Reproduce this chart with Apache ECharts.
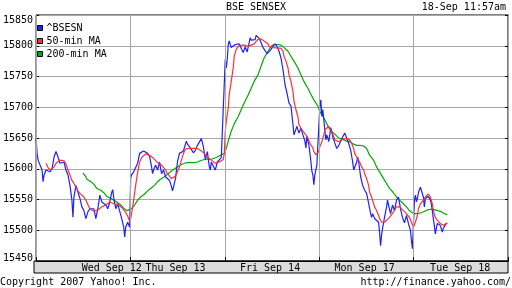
<!DOCTYPE html>
<html><head><meta charset="utf-8">
<script src="https://cdn.jsdelivr.net/npm/echarts@6/dist/echarts.min.js"></script>
<style>html,body{margin:0;padding:0;background:#fff}#c{width:512px;height:288px}</style>
</head><body><div id="c"></div>
<script>
// Time index: 95 intervals per trading day (Wed Sep 12 .. Tue Sep 18), value = index level
const dayLabels = ['Wed Sep 12', 'Thu Sep 13', 'Fri Sep 14', 'Mon Sep 17', 'Tue Sep 18'];
const dayLabelAt = [76, 140, 235, 330, 426];
const yTicks = [15450, 15500, 15550, 15600, 15650, 15700, 15750, 15800, 15850];

const bsesn = [
 [0,15650],[1,15625],[2,15614],[4,15617],[6,15598],[7,15579],[8,15590],[10,15598],[12,15600],[14,15595],
 [16,15600],[18,15619],[20,15628],[21,15630],[22,15619],[24,15609],[26,15611],[28,15611],[30,15598],[32,15590],
 [34,15573],[36,15549],[37,15521],[38,15554],[40,15573],[42,15562],[44,15552],[46,15538],[48,15532],[50,15519],
 [52,15530],[54,15535],[56,15532],[58,15535],[60,15519],[62,15535],[64,15557],[66,15546],[68,15543],[70,15541],
 [72,15535],[74,15546],[76,15562],[77,15566],[78,15552],[80,15535],[82,15543],[84,15541],[86,15519],[88,15505],
 [89,15489],[90,15505],[92,15513],[94,15505],
 [95,15585],[96,15590],[98,15595],[100,15598],[102,15609],[104,15625],[106,15624],[108,15629],[110,15626],[112,15625],
 [114,15620],[116,15603],[117,15592],[118,15598],[120,15606],[122,15598],[124,15611],[126,15592],[128,15598],[130,15587],
 [132,15590],[134,15581],[136,15571],[137,15564],[138,15570],[140,15584],[142,15611],[144,15625],[146,15626],[148,15629],
 [150,15640],[151,15645],[152,15640],[154,15636],[156,15631],[158,15626],[160,15630],[162,15638],[164,15636],[166,15649],
 [168,15636],[170,15615],[172,15628],[174,15603],[175,15598],[176,15611],[178,15604],[180,15598],[182,15611],[184,15614],
 [186,15618],[188,15619],
 [190,15778],[191,15764],[192,15778],[193,15802],[194,15808],[195,15810],[196,15797],[198,15799],[200,15802],[202,15805],
 [204,15803],[206,15805],[208,15789],[210,15798],[212,15790],[214,15805],[215,15813],[216,15809],[218,15810],[220,15810],
 [221,15817],[222,15820],[224,15812],[226,15805],[228,15797],[230,15792],[232,15787],[234,15790],[236,15794],[238,15799],
 [240,15803],[241,15805],[242,15799],[244,15791],[246,15780],[248,15761],[250,15737],[252,15723],[254,15707],[256,15702],
 [258,15672],[259,15655],[260,15653],[262,15669],[264,15658],[266,15666],[268,15655],[270,15645],[271,15634],[272,15653],
 [274,15639],[276,15612],[277,15596],[278,15590],[279,15574],[280,15590],[282,15606],[283,15609],
 [285,15701],[286,15712],[287,15685],[288,15696],[290,15663],[291,15647],[292,15655],[294,15644],[296,15667],[298,15652],
 [300,15642],[302,15633],[304,15638],[306,15636],[308,15652],[310,15658],[312,15660],[314,15641],[316,15630],[318,15611],
 [319,15598],[320,15595],[322,15611],[323,15619],[324,15611],[326,15587],[328,15573],[330,15565],[332,15560],[334,15544],
 [336,15527],[337,15521],[338,15527],[340,15519],[342,15519],[344,15513],[345,15497],[346,15475],[347,15492],[348,15503],
 [350,15521],[352,15538],[353,15549],[354,15541],[356,15527],[358,15541],[360,15532],[362,15549],[364,15554],[366,15535],
 [368,15521],[370,15512],[372,15524],[374,15511],[376,15500],[377,15483],[378,15470],
 [380,15549],[381,15557],[382,15546],[383,15552],[384,15561],[385,15566],[386,15570],[387,15573],[388,15568],[389,15554],
 [390,15538],[391,15552],[392,15550],[394,15555],[396,15549],[397,15543],[398,15532],[399,15519],[400,15508],[401,15494],
 [402,15503],[403,15511],[404,15513],[406,15508],[407,15505],[408,15497],[409,15503],[410,15506],[412,15511],[413,15511]
];

const ma50 = [
 [10,15609],[12,15602],[14,15598],[16,15598],[18,15603],[20,15609],[22,15612],[24,15614],[26,15614],[28,15613],
 [30,15608],[32,15598],[34,15590],[36,15581],[38,15576],[40,15570],[42,15564],[44,15560],[46,15557],[48,15554],
 [50,15549],[52,15542],[54,15535],[56,15532],[58,15531],[60,15530],[62,15533],[64,15536],[66,15538],[68,15539],
 [70,15541],[72,15544],[74,15546],[76,15545],[78,15543],[80,15544],[82,15542],[84,15539],[86,15537],[88,15534],
 [90,15529],[92,15523],[94,15514],
 [95,15519],[96,15528],[98,15549],[100,15573],[102,15594],[104,15611],[106,15618],[108,15620],[110,15624],[112,15625],
 [114,15622],[116,15619],[118,15617],[120,15614],[122,15610],[124,15607],[126,15606],[128,15603],[130,15598],[132,15592],
 [134,15588],[136,15584],[137,15581],[138,15583],[140,15588],[142,15595],[144,15603],[146,15614],[148,15625],[150,15632],
 [152,15634],[154,15633],[156,15633],[158,15633],[160,15633],[162,15633],[164,15631],[166,15629],[168,15627],[170,15623],
 [172,15619],[174,15617],[176,15614],[178,15611],[180,15609],[182,15609],[184,15611],[186,15613],[188,15615],[189,15625],
 [190,15660],[191,15677],[193,15699],[194,15721],[196,15742],[198,15764],[199,15783],[201,15794],[203,15799],[204,15802],
 [206,15801],[209,15801],[213,15799],[216,15801],[219,15803],[221,15807],[223,15809],[224,15812],[226,15812],[228,15809],
 [229,15808],[233,15803],[234,15799],[236,15798],[239,15797],[243,15796],[244,15797],[246,15796],[248,15791],[249,15783],
 [251,15775],[253,15764],[254,15753],[256,15742],[258,15726],[259,15710],[261,15696],[263,15685],[264,15672],[266,15666],
 [268,15661],[269,15658],[271,15655],[273,15650],[274,15645],[276,15639],[278,15634],[279,15628],[281,15623],[283,15620],
 [284,15628],[285,15636],[287,15644],[289,15655],[290,15663],[292,15666],[294,15669],[295,15668],[297,15660],[299,15652],
 [300,15647],[302,15644],[304,15644],[305,15647],[309,15649],[312,15649],[315,15647],[317,15641],[319,15633],[320,15625],
 [322,15619],[324,15617],[325,15611],[327,15603],[329,15598],[330,15592],[332,15584],[334,15573],[335,15562],[337,15554],
 [339,15543],[340,15538],[342,15532],[344,15524],[345,15519],[347,15513],[349,15512],[350,15513],[352,15516],[355,15521],
 [359,15530],[362,15538],[364,15541],[365,15538],[367,15535],[369,15532],[370,15530],[372,15527],[374,15524],[375,15521],
 [377,15513],[379,15505],
 [381,15513],[383,15524],[384,15535],[386,15543],[388,15546],[389,15549],[391,15554],[393,15557],[394,15559],[396,15554],
 [398,15543],[399,15532],[401,15521],[403,15516],[404,15513],[406,15511],[408,15512],[409,15508],[411,15511],[413,15512]
];

const ma200 = [
 [47,15593],[50,15587],[51,15583],[55,15579],[58,15575],[61,15568],[65,15565],[68,15561],[71,15555],[75,15552],
 [78,15549],[81,15546],[85,15541],[88,15536],[91,15532],[93,15531],
 [95,15534],[99,15541],[102,15549],[105,15554],[109,15559],[112,15564],[115,15568],[119,15573],[122,15579],[125,15583],
 [129,15587],[132,15591],[135,15595],[139,15600],[142,15603],[145,15606],[149,15609],[152,15610],[155,15610],[159,15610],
 [162,15611],[165,15613],[169,15615],[172,15616],[175,15615],[179,15617],[182,15619],[185,15622],[189,15625],
 [191,15633],[193,15645],[196,15661],[199,15673],[203,15685],[206,15696],[209,15707],[213,15720],[216,15731],[219,15742],
 [223,15753],[226,15767],[229,15780],[233,15791],[236,15799],[239,15802],[243,15802],[246,15801],[249,15797],[253,15791],
 [256,15783],[259,15775],[263,15764],[266,15753],[269,15742],[273,15731],[276,15721],[279,15712],[283,15702],
 [285,15693],[289,15683],[292,15673],[295,15664],[299,15658],[302,15653],[305,15649],[309,15647],[312,15645],[315,15644],
 [319,15640],[322,15638],[325,15638],[329,15637],[332,15633],[335,15622],[339,15614],[342,15603],[345,15595],[349,15584],
 [352,15576],[355,15568],[359,15561],[362,15554],[365,15549],[369,15543],[372,15538],[375,15532],[379,15527],
 [383,15527],[386,15528],[389,15530],[393,15533],[396,15534],[399,15534],[403,15532],[406,15531],[409,15528],[413,15525]
];

const FONT = 'DejaVu Sans Mono';
const txt = {fontFamily: FONT, fontSize: 10, color: '#000', fontWeight: 'normal'};

const chart = echarts.init(document.getElementById('c'), null, {renderer: 'canvas'});
chart.setOption({
  animation: false,
  backgroundColor: '#fff',
  title: [
    {text: 'BSE SENSEX', left: 'center', top: 1, padding: 0, textStyle: Object.assign({lineHeight: 12}, txt)},
    {text: '18-Sep 11:57am', right: 6, top: 1, padding: 0, textStyle: Object.assign({lineHeight: 12}, txt)},
    {text: 'Copyright 2007 Yahoo! Inc.', left: 0, top: 276, padding: 0, textStyle: Object.assign({lineHeight: 12}, txt)},
    {text: 'http://finance.yahoo.com/', right: 1, top: 276, padding: 0, textStyle: Object.assign({lineHeight: 12}, txt)}
  ],
  legend: {
    left: 37, top: 22, orient: 'vertical', itemGap: 1, padding: 0,
    icon: 'rect', itemWidth: 5, itemHeight: 5,
    itemStyle: {borderColor: '#000', borderWidth: 1},
    textStyle: Object.assign({lineHeight: 12, padding: [0,0,0,-1]}, txt),
    data: ['^BSESN', '50-min MA', '200-min MA']
  },
  graphic: [{
    type: 'rect', z: -1, silent: true,
    shape: {x: 34, y: 261, width: 474, height: 12},
    style: {fill: '#dcdcdc', stroke: '#000', lineWidth: 1}
  }],
  grid: {left: 34, right: 4, top: 15, bottom: 27, show: true, borderColor: '#000', borderWidth: 1, backgroundColor: 'transparent'},
  xAxis: {
    type: 'value', min: 0, max: 474, interval: 94.8, z: 10,
    axisLine: {show: true, lineStyle: {color: '#000', width: 1}},
    axisTick: {show: true, inside: true, length: 4, lineStyle: {color: '#000'}},
    splitLine: {show: true, lineStyle: {color: '#a8a8a8', width: 1}},
    axisLabel: {
      customValues: dayLabelAt, margin: 1,
      formatter: v => dayLabels[dayLabelAt.indexOf(v)] || '',
      fontFamily: FONT, fontSize: 10, color: '#000', lineHeight: 12
    }
  },
  yAxis: [{
    type: 'value', min: yTicks[0], max: yTicks[yTicks.length-1], interval: 50, position: 'left',
    axisLine: {show: true, lineStyle: {color: '#000'}},
    axisTick: {show: true, inside: true, length: 3, lineStyle: {color: '#000'}},
    splitLine: {show: true, lineStyle: {color: '#a8a8a8', width: 1}},
    axisLabel: {
      margin: 3, fontFamily: FONT, fontSize: 10, color: '#000',
      formatter: v => v === 15850 ? '{t|' + v + '}' : (v === 15450 ? '{b|' + v + '}' : String(v)),
      rich: {
        t: {fontFamily: FONT, fontSize: 10, color: '#000', padding: [10, 0, 0, 0]},
        b: {fontFamily: FONT, fontSize: 10, color: '#000', padding: [0, 0, 6, 0]}
      }
    }
  }, {
    type: 'value', min: yTicks[0], max: yTicks[yTicks.length-1], interval: 50, position: 'right',
    axisLine: {show: true, lineStyle: {color: '#000'}},
    axisTick: {show: true, inside: true, length: 3, lineStyle: {color: '#000'}},
    splitLine: {show: false}, axisLabel: {show: false}
  }],
  series: [
    {name: '^BSESN', type: 'line', data: bsesn, showSymbol: false, z: 3,
     lineStyle: {color: '#2020ff', width: 1.2}, itemStyle: {color: '#2020ff'}},
    {name: '50-min MA', type: 'line', data: ma50, showSymbol: false, z: 4,
     lineStyle: {color: '#ff3030', width: 1.2}, itemStyle: {color: '#ff3030'}},
    {name: '200-min MA', type: 'line', data: ma200, showSymbol: false, z: 2,
     lineStyle: {color: '#00aa00', width: 1.2}, itemStyle: {color: '#00aa00'}}
  ]
});
</script></body></html>
